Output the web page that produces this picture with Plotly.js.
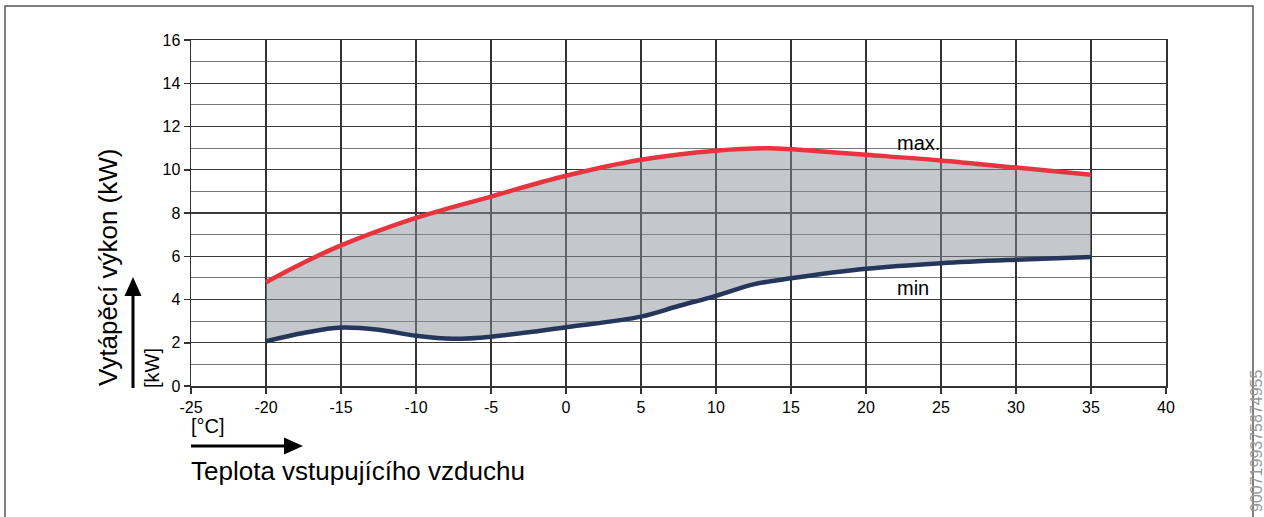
<!DOCTYPE html>
<html>
<head>
<meta charset="utf-8">
<script src="https://cdn.plot.ly/plotly-3.0.1.min.js"></script>
<style>html,body{margin:0;padding:0;background:#fff;}#chart{width:1264px;height:517px;}</style>
</head>
<body>
<div id="chart"></div>
<script>
// ---- data ----
const tempMax = [-20, -17.5, -15, -10, -5, 0, 5, 10, 13.5, 17.5, 20, 25, 30, 35];
const kwMax   = [4.8, 5.7, 6.5, 7.77, 8.76, 9.72, 10.46, 10.88, 10.99, 10.82, 10.69, 10.43, 10.1, 9.77];
const tempMin = [-20, -17.5, -15, -12.5, -10, -7.5, -5, 0, 5, 7.5, 10, 12.5, 15, 20, 25, 30, 35];
const kwMin   = [2.07, 2.45, 2.7, 2.6, 2.32, 2.18, 2.28, 2.72, 3.21, 3.7, 4.17, 4.7, 4.98, 5.42, 5.68, 5.84, 5.96];
const xTickVals = [-25, -20, -15, -10, -5, 0, 5, 10, 15, 20, 25, 30, 35, 40];
const yTickVals = [0, 2, 4, 6, 8, 10, 12, 14, 16];
const yTitle = "Vytápěcí výkon (kW)";
const yUnit = "[kW]";
const xUnit = "[°C]";
const xTitle = "Teplota vstupujícího vzduchu";
const labelMax = "max.";
const labelMin = "min";
const imageId = "9007199375874955";

// ---- layout geometry ----
const W = 1264, H = 517;
const L = 191, R = 1166, T = 40, B = 386;
const px = x => (x - L) / (R - L);
const py = y => (B - y) / (B - T);
const FONT = "Liberation Sans, Arial, sans-serif";

const fillColor = "rgba(138,146,153,0.5)";
const red = "#e8343f";
const navy = "#24365a";

const traces = [
  {x: tempMin, y: kwMin, mode: "lines", line: {width: 0, shape: "spline", color: navy}, hoverinfo: "skip", showlegend: false},
  {x: tempMax, y: kwMax, mode: "lines", fill: "tonexty", fillcolor: fillColor, line: {width: 0, shape: "spline", color: red}, hoverinfo: "skip", showlegend: false},
  {x: tempMax, y: kwMax, mode: "lines", line: {width: 4.5, shape: "spline", color: red}, name: "max", showlegend: false},
  {x: tempMin, y: kwMin, mode: "lines", line: {width: 4.5, shape: "spline", color: navy}, name: "min", showlegend: false}
];

const shapes = [
  // outer frame (open at the bottom)
  {type: "path", xref: "paper", yref: "paper",
   path: `M ${px(5)} ${py(520)} L ${px(5)} ${py(6)} L ${px(1253)} ${py(6)} L ${px(1253)} ${py(520)}`,
   line: {color: "#555", width: 1.5}},
  // horizontal arrow
  {type: "line", xref: "paper", yref: "paper", x0: px(191), y0: py(446), x1: px(286), y1: py(446), line: {color: "#000", width: 3}},
  {type: "path", xref: "paper", yref: "paper",
   path: `M ${px(284)} ${py(437.5)} L ${px(303)} ${py(446)} L ${px(284)} ${py(454.5)} Z`,
   fillcolor: "#000", line: {color: "#000", width: 0}},
  // vertical arrow
  {type: "line", xref: "paper", yref: "paper", x0: px(133), y0: py(388), x1: px(133), y1: py(294), line: {color: "#000", width: 3}},
  {type: "path", xref: "paper", yref: "paper",
   path: `M ${px(124.5)} ${py(296)} L ${px(133)} ${py(277)} L ${px(141.5)} ${py(296)} Z`,
   fillcolor: "#000", line: {color: "#000", width: 0}}
];

const annotations = [
  {text: yTitle, xref: "paper", yref: "paper", x: px(108), y: py(268), textangle: -90,
   showarrow: false, xanchor: "center", yanchor: "middle", font: {family: FONT, size: 26, color: "#000"}},
  {text: yUnit, xref: "paper", yref: "paper", x: px(152), y: py(368), textangle: -90,
   showarrow: false, xanchor: "center", yanchor: "middle", font: {family: FONT, size: 20, color: "#000"}},
  {text: xUnit, xref: "paper", yref: "paper", x: px(189), y: py(426),
   showarrow: false, xanchor: "left", yanchor: "middle", font: {family: FONT, size: 20, color: "#000"}},
  {text: xTitle, xref: "paper", yref: "paper", x: px(189), y: py(471),
   showarrow: false, xanchor: "left", yanchor: "middle", font: {family: FONT, size: 26, color: "#000"}},
  {text: labelMax, xref: "x", yref: "y", x: 21.9, y: 11.26,
   showarrow: false, xanchor: "left", yanchor: "middle", font: {family: FONT, size: 20, color: "#000"}},
  {text: labelMin, xref: "x", yref: "y", x: 21.9, y: 4.54,
   showarrow: false, xanchor: "left", yanchor: "middle", font: {family: FONT, size: 20, color: "#000"}},
  {text: imageId, xref: "paper", yref: "paper", x: px(1256), y: py(514), textangle: -90,
   showarrow: false, xanchor: "center", yanchor: "bottom", font: {family: FONT, size: 16, color: "#9a9a9a"}}
];

const layout = {
  width: W, height: H,
  margin: {l: L, r: W - R, t: T, b: H - B, pad: 0},
  paper_bgcolor: "#fff", plot_bgcolor: "#fff",
  showlegend: false,
  font: {family: FONT, size: 16, color: "#000"},
  xaxis: {
    range: [-25, 40], tickmode: "array", tickvals: xTickVals, ticktext: xTickVals.map(String),
    showgrid: true, gridcolor: "#333", gridwidth: 1.2, zeroline: false,
    showline: true, linecolor: "#333", linewidth: 1.5, mirror: true,
    ticks: "outside", ticklen: 6, tickcolor: "#333", tickwidth: 1.5,
    tickfont: {family: FONT, size: 16, color: "#000"}, fixedrange: true
  },
  yaxis: {
    range: [0, 16], tickmode: "array", tickvals: yTickVals, ticktext: yTickVals.map(String),
    showgrid: true, gridcolor: "#3a3a3a", gridwidth: 1.3, zeroline: false,
    showline: true, linecolor: "#333", linewidth: 1.5, mirror: true,
    ticks: "outside", ticklen: 6, tickcolor: "#333", tickwidth: 1.5,
    minor: {dtick: 1, showgrid: true, gridcolor: "#777", gridwidth: 1, ticks: ""},
    tickfont: {family: FONT, size: 16, color: "#000"}, fixedrange: true
  },
  shapes: shapes,
  annotations: annotations
};

Plotly.newPlot("chart", traces, layout, {staticPlot: true, displayModeBar: false});
</script>
</body>
</html>
